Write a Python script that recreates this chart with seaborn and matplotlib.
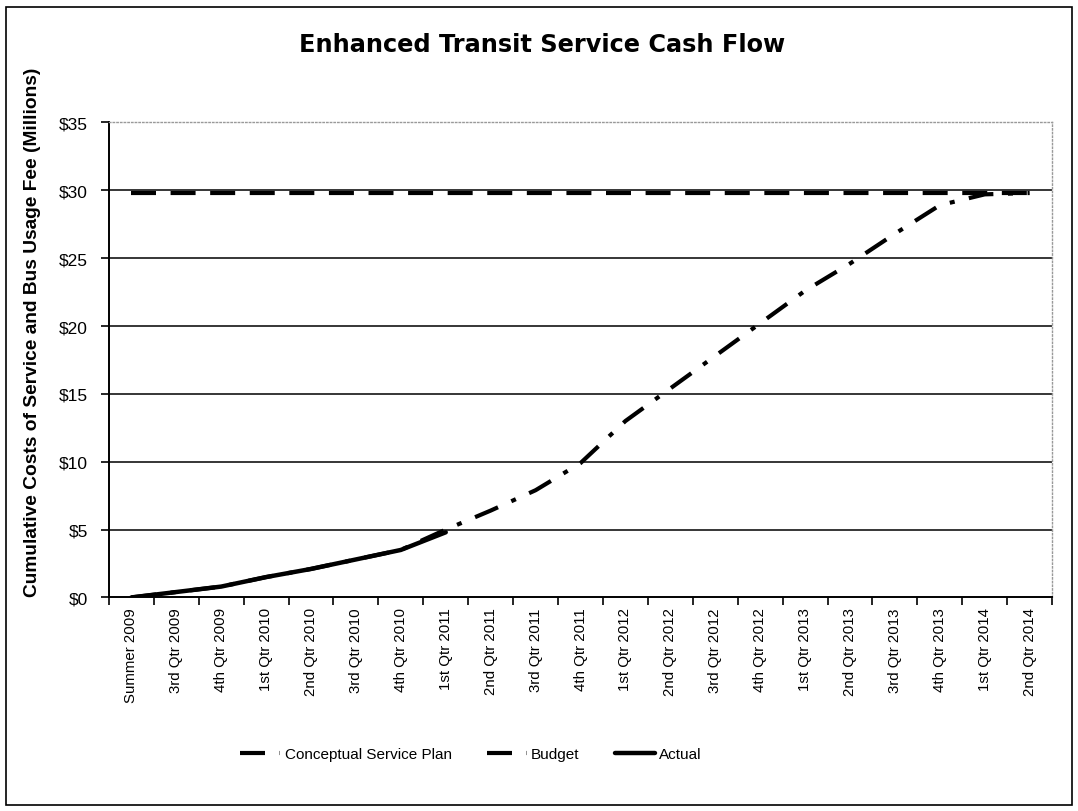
import numpy as np
import pandas as pd
import seaborn as sns
import matplotlib.pyplot as plt
from matplotlib.patches import Rectangle

# Quarter labels on the x axis
quarters = ["Summer 2009", "3rd Qtr 2009", "4th Qtr 2009",
            "1st Qtr 2010", "2nd Qtr 2010", "3rd Qtr 2010", "4th Qtr 2010",
            "1st Qtr 2011", "2nd Qtr 2011", "3rd Qtr 2011", "4th Qtr 2011",
            "1st Qtr 2012", "2nd Qtr 2012", "3rd Qtr 2012", "4th Qtr 2012",
            "1st Qtr 2013", "2nd Qtr 2013", "3rd Qtr 2013", "4th Qtr 2013",
            "1st Qtr 2014", "2nd Qtr 2014"]

# Cumulative costs in $ millions
conceptual = [0.0, 0.4, 0.8, 1.5, 2.1, 2.8, 3.5, 5.0, 6.4, 7.9, 9.9,
              13.0, 15.4, 17.8, 20.2, 22.6, 24.6, 26.8, 28.9, 29.7, 29.8]
budget = [29.8] * len(quarters)
actual = [0.0, 0.4, 0.8, 1.5, 2.1, 2.8, 3.5, 4.8]

yticks = [0, 5, 10, 15, 20, 25, 30, 35]

df_plan = pd.DataFrame({"idx": range(len(quarters)), "value": conceptual})
df_budget = pd.DataFrame({"idx": range(len(quarters)), "value": budget})
df_actual = pd.DataFrame({"idx": range(len(actual)), "value": actual})

sns.set_style("white")
plt.rcParams['font.family'] = ['Liberation Sans', 'DejaVu Sans']
plt.rcParams['text.color'] = 'black'
plt.rcParams['axes.labelcolor'] = 'black'
plt.rcParams['xtick.color'] = 'black'
plt.rcParams['ytick.color'] = 'black'

fig = plt.figure(figsize=(10.78, 8.12), dpi=100)
ax = fig.add_axes([0.101, 0.263, 0.875, 0.585])

sns.lineplot(data=df_plan, x="idx", y="value", ax=ax, color="black", lw=3,
             label="Conceptual Service Plan")
ax.lines[-1].set_dashes([6, 3.5, 1.2, 3.5])
sns.lineplot(data=df_budget, x="idx", y="value", ax=ax, color="black", lw=3,
             label="Budget")
ax.lines[-1].set_dashes([6, 3.5])
sns.lineplot(data=df_actual, x="idx", y="value", ax=ax, color="black", lw=3.2,
             label="Actual")

ax.set_xlim(-0.5, len(quarters) - 0.5)
ax.set_ylim(0, 35)
ax.set_yticks(yticks)
ax.set_yticklabels(["${}".format(v) for v in yticks], fontsize=12.5)
ax.set_xticks(range(len(quarters)))
ax.set_xticklabels(quarters, rotation=90, fontsize=10.8)
ax.set_xticks(np.arange(len(quarters) + 1) - 0.5, minor=True)
ax.tick_params(axis="x", which="major", length=0, pad=7)
ax.tick_params(axis="x", which="minor", length=6, width=1.2, color="black",
               direction="out", bottom=True)
ax.tick_params(axis="y", length=6, width=1.2, color="black", direction="out",
               left=True, pad=9)
ax.set_xlabel("")
ax.set_ylabel("Cumulative Costs of Service and Bus Usage Fee (Millions)",
              fontsize=13.8, fontweight="bold")
ax.yaxis.set_label_coords(-0.072, 0.56)

for v in yticks[1:-1]:
    ax.axhline(v, color="black", lw=1.1, zorder=0)

for side in ["left", "bottom"]:
    ax.spines[side].set_color("black")
    ax.spines[side].set_linewidth(1.4)
for side in ["top", "right"]:
    ax.spines[side].set_color("#999999")
    ax.spines[side].set_linestyle(":")
    ax.spines[side].set_linewidth(1)

fig.text(0.503, 0.945, "Enhanced Transit Service Cash Flow", ha="center",
         va="center", fontsize=17.3, fontweight="bold", family="DejaVu Sans")

ax.legend_.remove()
leg = fig.legend(handles=ax.lines[:3], labels=["Conceptual Service Plan", "Budget", "Actual"],
                 loc="center", bbox_to_anchor=(0.437, 0.07), ncol=3, frameon=False,
                 fontsize=11, handlelength=2.6, handletextpad=0.3, columnspacing=2.3)

fig.patches.append(Rectangle((0.006, 0.008), 0.988, 0.982, transform=fig.transFigure,
                             fill=False, edgecolor="black", lw=1.2))

fig.savefig("out.png", dpi=100)
